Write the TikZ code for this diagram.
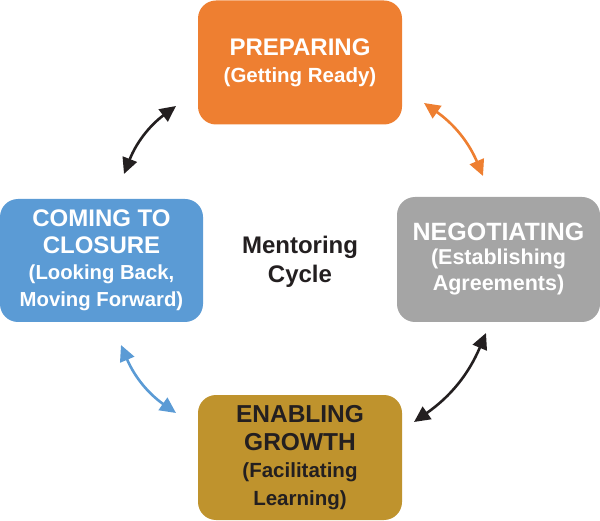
\documentclass[tikz,border=0pt]{standalone}
\usepackage{fontspec}
\setmainfont{Liberation Sans}
\usetikzlibrary{arrows.meta}
\definecolor{cOrange}{HTML}{EE7F31}
\definecolor{cGray}{HTML}{A5A5A5}
\definecolor{cBlue}{HTML}{5B9BD5}
\definecolor{cGold}{HTML}{BF932D}
\definecolor{cDark}{HTML}{231F20}
\newcommand{\subsz}[1]{\fontsize{#1}{26}\selectfont}
\begin{document}
\begin{tikzpicture}[x=1pt,y=1pt,
  stagebox/.style={rounded corners=18pt, minimum width=204pt, minimum height=124pt,
    inner sep=0pt, text=white, align=center},
  cyc/.style={line width=2.6pt, {Triangle[length=16pt,width=15pt]}-{Triangle[length=16pt,width=15pt]}, bend left=16}
]
\useasboundingbox (0,0) rectangle (600,520);
\node[stagebox, fill=cOrange, font=\bfseries\fontsize{24}{27}\selectfont] (prep) at (300,457.5)
  {PREPARING\\\subsz{20.5}(Getting Ready)};
\node[stagebox, fill=cGray, minimum width=203pt, minimum height=125pt, font=\bfseries\fontsize{25}{26}\selectfont] (neg) at (498.5,260.5)
  {NEGOTIATING\\[-2pt]\subsz{21.5}(Establishing\\\subsz{21.5}Agreements)};
\node[stagebox, fill=cBlue, minimum width=203pt, minimum height=123pt, font=\bfseries\fontsize{24}{26.5}\selectfont] (close) at (101.5,259.5)
  {COMING TO\\CLOSURE\\\subsz{20.3}(Looking Back,\\\subsz{20.3}Moving Forward)};
\node[stagebox, fill=cGold, minimum height=125pt, text=cDark, font=\bfseries\fontsize{24.5}{27.5}\selectfont] (grow) at (300,62.5)
  {ENABLING\\GROWTH\\\subsz{20.5}(Facilitating\\\subsz{20.5}Learning)};
\node[font=\bfseries\fontsize{24}{29}\selectfont, text=cDark, align=center, inner sep=0pt] (center) at (300,258)
  {Mentoring\\Cycle};
\coordinate (a1s) at (124,346);
\coordinate (a1e) at (176,414);
\coordinate (a2s) at (424,417);
\coordinate (a2e) at (483,344);
\coordinate (a3s) at (486,187);
\coordinate (a3e) at (414,98);
\coordinate (a4s) at (176,107);
\coordinate (a4e) at (121,175);
\draw[cyc, cDark] (a1s) to (a1e);
\draw[cyc, cOrange] (a2s) to (a2e);
\draw[cyc, cDark] (a3s) to (a3e);
\draw[cyc, cBlue] (a4s) to (a4e);
\end{tikzpicture}
\end{document}
